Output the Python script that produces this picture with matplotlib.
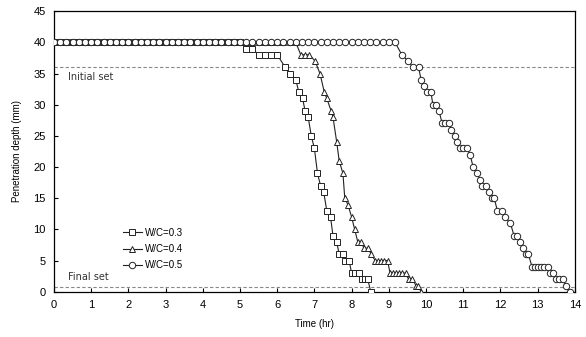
import numpy as np
import matplotlib.pyplot as plt

# time in minutes, penetration depth in mm
t_03 = [0, 10, 20, 30, 40, 50, 60, 70, 80, 90, 100, 110, 120, 130, 140, 150,
        160, 170, 180, 190, 200, 210, 220, 230, 240, 250, 260, 270, 280, 290,
        300, 310, 320, 330, 340, 350, 360, 373, 380, 390, 395, 401, 405, 410,
        415, 420, 425, 430, 435, 440, 446, 450, 456, 460, 466, 470, 476, 480,
        485, 492, 496, 501, 506, 511]
d_03 = [40, 40, 40, 40, 40, 40, 40, 40, 40, 40, 40, 40, 40, 40, 40, 40,
        40, 40, 40, 40, 40, 40, 40, 40, 40, 40, 40, 40, 40, 40,
        40, 39, 39, 38, 38, 38, 38, 36, 35, 34, 32, 31, 29, 28,
        25, 23, 19, 17, 16, 13, 12, 9, 8, 6, 6, 5, 5, 3,
        3, 3, 2, 2, 2, 0]

t_04 = [0, 10, 20, 30, 40, 50, 60, 70, 80, 90, 100, 110, 120, 130, 140, 150,
        160, 170, 180, 190, 200, 210, 220, 230, 240, 250, 260, 270, 280, 290,
        300, 310, 320, 330, 340, 350, 360, 370, 380, 390, 398, 405, 412, 421,
        429, 436, 440, 447, 450, 456, 460, 466, 469, 474, 480, 485, 490, 495,
        500, 506, 512, 518, 523, 528, 533, 538, 542, 547, 552, 557, 562, 567,
        572, 578, 584, 587, 592]
d_04 = [40, 40, 40, 40, 40, 40, 40, 40, 40, 40, 40, 40, 40, 40, 40, 40,
        40, 40, 40, 40, 40, 40, 40, 40, 40, 40, 40, 40, 40, 40,
        40, 40, 40, 40, 40, 40, 40, 40, 40, 40, 38, 38, 38, 37,
        35, 32, 31, 29, 28, 24, 21, 19, 15, 14, 12, 10, 8, 8,
        7, 7, 6, 5, 5, 5, 5, 5, 3, 3, 3, 3, 3, 3,
        2, 2, 1, 1, 0]

t_05 = [0, 10, 20, 30, 40, 50, 60, 70, 80, 90, 100, 110, 120, 130, 140, 150,
        160, 170, 180, 190, 200, 210, 220, 230, 240, 250, 260, 270, 280, 290,
        300, 310, 320, 330, 340, 350, 360, 370, 380, 390, 400, 410, 420, 430,
        440, 450, 460, 470, 480, 490, 500, 510, 520, 530, 540, 550,
        561, 571, 579, 588, 592, 596, 602, 608, 611, 616, 621, 626, 630, 637,
        640, 647, 650, 655, 660, 666, 671, 676, 682, 687, 690, 696, 701, 706,
        710, 715, 722, 727, 736, 742, 747, 752, 756, 761, 765, 771, 776, 781,
        786, 791, 796, 800, 805, 810, 815, 821, 825, 832]
d_05 = [40, 40, 40, 40, 40, 40, 40, 40, 40, 40, 40, 40, 40, 40, 40, 40,
        40, 40, 40, 40, 40, 40, 40, 40, 40, 40, 40, 40, 40, 40,
        40, 40, 40, 40, 40, 40, 40, 40, 40, 40, 40, 40, 40, 40,
        40, 40, 40, 40, 40, 40, 40, 40, 40, 40, 40, 40,
        38, 37, 36, 36, 34, 33, 32, 32, 30, 30, 29, 27, 27, 27,
        26, 25, 24, 23, 23, 23, 22, 20, 19, 18, 17, 17, 16, 15,
        15, 13, 13, 12, 11, 9, 9, 8, 7, 6, 6, 4, 4, 4,
        4, 4, 4, 3, 3, 2, 2, 2, 1, 0]

initial_set = 36
final_set = 0.8

plt.rcParams["font.family"] = ["Liberation Sans", "DejaVu Sans"]

fig = plt.figure(figsize=(5.86, 3.37), dpi=100)
ax = fig.add_axes([0.092, 0.134, 0.889, 0.833])

style = dict(color="#222222", lw=0.8, mfc="white", mec="#222222", mew=0.7, ms=4.6)
ax.plot(np.array(t_04) / 60, d_04, marker="^", label="W/C=0.4", zorder=3, **style)
ax.plot(np.array(t_03) / 60, d_03, marker="s", label="W/C=0.3", zorder=4, **style)
ax.plot(np.array(t_05) / 60, d_05, marker="o", label="W/C=0.5", zorder=5, **style)

ax.axhline(initial_set, color="#888888", lw=0.8, ls=(0, (3, 2)), zorder=1)
ax.axhline(final_set, color="#888888", lw=0.8, ls=(0, (3, 2)), zorder=1)
ax.text(0.38, 34.5, "Initial set", fontsize=7, family="DejaVu Sans",
        color="#333333", va="center")
ax.text(0.38, 2.4, "Final set", fontsize=7, family="DejaVu Sans",
        color="#333333", va="center")

ax.set_xlim(0, 14)
ax.set_ylim(0, 45)
ax.set_xticks(range(0, 15))
ax.set_yticks(range(0, 46, 5))
ax.tick_params(direction="in", length=3, width=0.8, labelsize=8, pad=6)
for s in ax.spines.values():
    s.set_linewidth(0.9)
ax.set_xlabel("Time (hr)", fontsize=7, labelpad=6)
ax.set_ylabel("Penetration depth (mm)", fontsize=7, labelpad=8)

h, l = ax.get_legend_handles_labels()
ax.legend([h[1], h[0], h[2]], [l[1], l[0], l[2]], loc="lower left",
          bbox_to_anchor=(0.115, 0.045), frameon=False, fontsize=7,
          handlelength=2.0, handletextpad=0.3, labelspacing=0.65)

fig.savefig("out.png", dpi=100)
